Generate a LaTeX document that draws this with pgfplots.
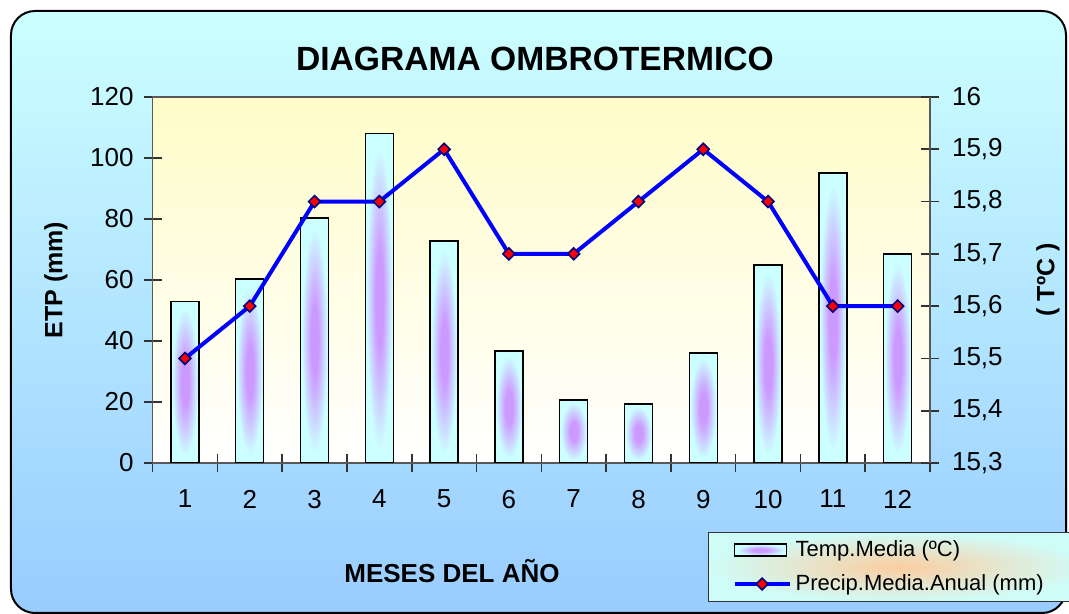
\documentclass[border=0pt]{standalone}
\usepackage{pgfplots}
\pgfplotsset{compat=1.18}
\usepackage{fontspec}
\setmainfont{Liberation Sans}
\definecolor{framtop}{RGB}{204,255,255}
\definecolor{frambot}{RGB}{153,204,255}
\definecolor{plottop}{RGB}{255,252,200}
\definecolor{barcyan}{RGB}{204,255,255}
\definecolor{barpurple}{RGB}{204,153,255}
\definecolor{legcyan}{RGB}{208,252,248}
\definecolor{legorange}{RGB}{252,205,160}
\definecolor{markborder}{RGB}{0,0,128}
\pgfdeclareradialshading{barglow}{\pgfpoint{0bp}{0bp}}{color(0bp)=(barpurple); color(7bp)=(barpurple); color(23bp)=(barcyan); color(50bp)=(barcyan)}
\pgfdeclareradialshading{legglow}{\pgfpoint{0bp}{0bp}}{color(0bp)=(legorange); color(25bp)=(legcyan); color(50bp)=(legcyan)}
\pgfplotsset{
  mylinelegend/.style={legend image code/.code={\draw[mark repeat=2, mark phase=2, ##1] plot coordinates {(0pt,0pt) (13.75pt,0pt) (27.5pt,0pt)};}},
  mybarlegend/.style={legend image code/.code={\draw[shade, shading=barglow, draw=black, line width=0.7pt] (0pt,-3pt) rectangle (26pt,3pt);}},
}
\begin{document}
\begin{tikzpicture}
\useasboundingbox (-76.3pt,-75.5pt) rectangle (458.2pt,231.5pt);
\shadedraw[top color=framtop, bottom color=frambot, draw=black, line width=1pt, rounded corners=12pt] (-70.8pt,-75pt) rectangle (456.7pt,226pt);
\begin{axis}[
  at={(0pt,0pt)}, anchor=south west,
  scale only axis, width=388.7pt, height=183pt,
  xmin=0.5, xmax=12.5, ymin=0, ymax=120,
  xtick={1,...,12}, minor xtick={0.5,1.5,...,12.5},
  ytick={0,20,...,120},
  xtick pos=left, ytick pos=left,
  tick align=center,
  major tick length=9pt, minor tick length=8.5pt,
  major x tick style={draw=none},
  axis line style={black!65, line width=0.8pt},
  tick style={black!80, line width=0.8pt},
  axis background/.style={shade, top color=plottop, bottom color=white},
  tick label style={font=\fontsize{13}{15}\selectfont},
  xticklabel style={yshift=-5.5pt},
  yticklabel style={xshift=-1.5pt},
  /pgf/number format/assume math mode=true,
  title={DIAGRAMA OMBROTERMICO},
  title style={at={(axis description cs:0.4919,1.071)}, anchor=center, font=\bfseries\fontsize{16.8}{19}\selectfont},
  xlabel={MESES DEL AÑO},
  xlabel style={at={(axis description cs:0.3851,-0.295)}, anchor=center, font=\bfseries\fontsize{13}{16}\selectfont},
  ylabel={ETP (mm)},
  ylabel style={at={(axis description cs:-0.1243,0.5)}, anchor=center, font=\bfseries\fontsize{12.5}{15}\selectfont},
]
\addplot[ybar, bar width=14pt, draw=black, line width=0.7pt, shade, shading=barglow] coordinates {(1,53)};
\addplot[ybar, bar width=14pt, draw=black, line width=0.7pt, shade, shading=barglow] coordinates {(2,60.3)};
\addplot[ybar, bar width=14pt, draw=black, line width=0.7pt, shade, shading=barglow] coordinates {(3,80.3)};
\addplot[ybar, bar width=14pt, draw=black, line width=0.7pt, shade, shading=barglow] coordinates {(4,108)};
\addplot[ybar, bar width=14pt, draw=black, line width=0.7pt, shade, shading=barglow] coordinates {(5,72.8)};
\addplot[ybar, bar width=14pt, draw=black, line width=0.7pt, shade, shading=barglow] coordinates {(6,36.7)};
\addplot[ybar, bar width=14pt, draw=black, line width=0.7pt, shade, shading=barglow] coordinates {(7,20.7)};
\addplot[ybar, bar width=14pt, draw=black, line width=0.7pt, shade, shading=barglow] coordinates {(8,19.3)};
\addplot[ybar, bar width=14pt, draw=black, line width=0.7pt, shade, shading=barglow] coordinates {(9,36.1)};
\addplot[ybar, bar width=14pt, draw=black, line width=0.7pt, shade, shading=barglow] coordinates {(10,64.9)};
\addplot[ybar, bar width=14pt, draw=black, line width=0.7pt, shade, shading=barglow] coordinates {(11,95.1)};
\addplot[ybar, bar width=14pt, draw=black, line width=0.7pt, shade, shading=barglow] coordinates {(12,68.5)};
\end{axis}
\begin{axis}[
  at={(0pt,0pt)}, anchor=south west,
  scale only axis, width=388.7pt, height=183pt,
  xmin=0.5, xmax=12.5, ymin=15.3, ymax=16,
  axis x line=none, axis y line*=right,
  ytick={15.3,15.4,15.5,15.6,15.7,15.8,15.9,16},
  tick align=center, major tick length=9pt,
  axis line style={black!65, line width=0.8pt},
  tick style={black!80, line width=0.8pt},
  tick label style={font=\fontsize{13}{15}\selectfont},
  yticklabel style={xshift=3pt},
  /pgf/number format/assume math mode=true,
  /pgf/number format/use comma, /pgf/number format/fixed, /pgf/number format/precision=1,
  ylabel={( TºC )},
  ylabel style={at={(axis description cs:1.1518,0.5)}, anchor=center, font=\bfseries\fontsize{12.5}{15}\selectfont},
  legend cell align=left,
  legend style={at={(axis description cs:0.7144,-0.1885)}, anchor=north west, draw=black!80, line width=0.6pt, shade, shading=legglow, font=\fontsize{11}{13}\selectfont, inner xsep=12pt, inner ysep=2pt, row sep=3.5pt},
]
\addlegendimage{mybarlegend}
\addlegendentry{\makebox[132pt][l]{Temp.Media (ºC)}}
\addplot[blue, line width=2pt, mark=square*, mark size=2.1pt, mark options={rotate=45, fill=red, draw=markborder, line width=0.8pt}, mylinelegend]
  coordinates {(1,15.5) (2,15.6) (3,15.8) (4,15.8) (5,15.9) (6,15.7) (7,15.7) (8,15.8) (9,15.9) (10,15.8) (11,15.6) (12,15.6)};
\addlegendentry{\makebox[132pt][l]{Precip.Media.Anual (mm)}}
\end{axis}
\end{tikzpicture}
\end{document}
